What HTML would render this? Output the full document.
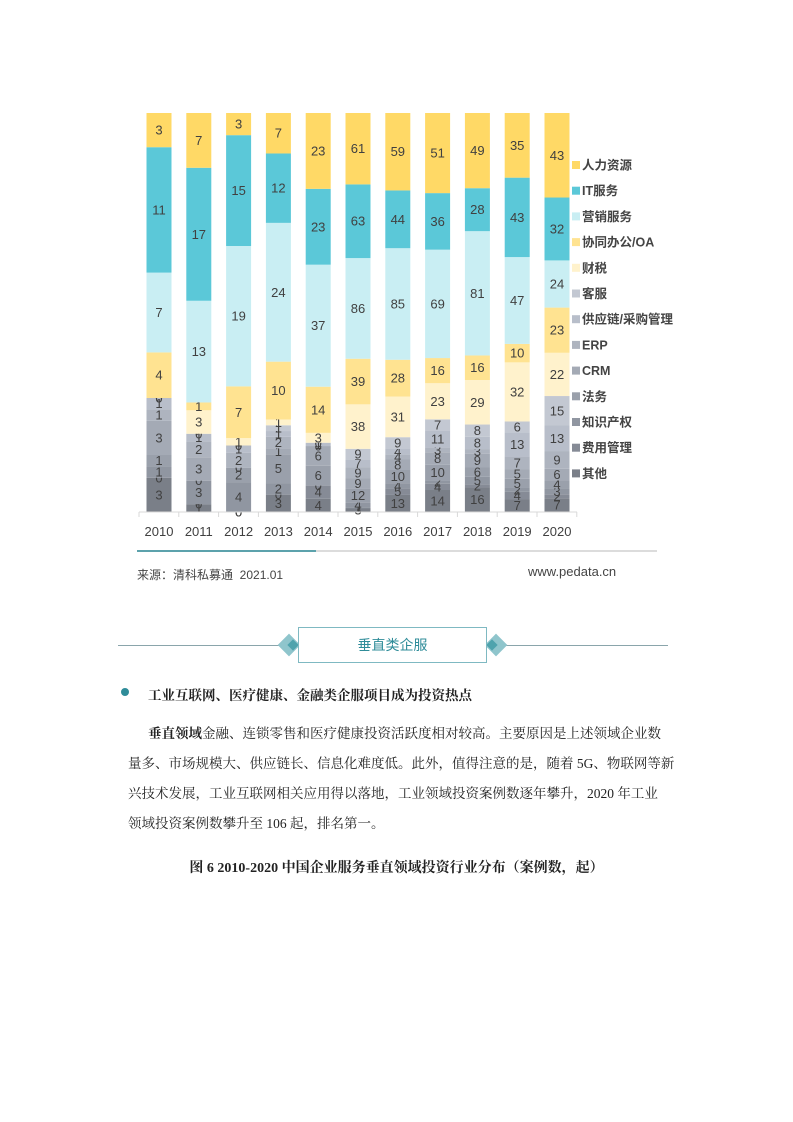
<!DOCTYPE html>
<html><head><meta charset="utf-8">
<style>
body{margin:0;background:#fff;}
#page{position:relative;width:793px;height:1122px;overflow:hidden;font-family:"Liberation Sans","Noto Sans CJK SC",sans-serif;color:#333;}
.abs{position:absolute;}
p.t{position:absolute;margin:0;font-family:"Liberation Serif","Noto Serif CJK SC",serif;font-size:13.5px;color:#222;white-space:nowrap;}
</style></head>
<body>
<div id="page">
<svg id="chart" class="abs" style="left:0;top:0" width="793" height="600"></svg>
<div class="abs" style="left:137px;top:566px;font-size:12px;color:#444;">来源：清科私募通&nbsp; 2021.01</div>
<div class="abs" style="left:528px;top:564px;font-size:13px;color:#444;">www.pedata.cn</div>

<div class="abs" style="left:118px;top:645px;width:550px;height:1px;background:#8aa5ab;"></div>
<div class="abs" style="left:281px;top:637px;width:16px;height:16px;background:#8fc5cc;transform:rotate(45deg);"></div>
<div class="abs" style="left:289px;top:641px;width:8px;height:8px;background:#4fa3ad;transform:rotate(45deg);"></div>
<div class="abs" style="left:488px;top:637px;width:16px;height:16px;background:#8fc5cc;transform:rotate(45deg);"></div>
<div class="abs" style="left:488px;top:641px;width:8px;height:8px;background:#4fa3ad;transform:rotate(45deg);"></div>
<div class="abs" style="left:298px;top:627px;width:187px;height:34px;border:1px solid #7fb9c2;background:#fff;color:#2f8c99;font-size:14px;text-align:center;line-height:34px;">垂直类企服</div>

<div class="abs" style="left:121px;top:688px;width:8px;height:8px;border-radius:50%;background:#2f8c99;"></div>
<p class="t" style="left:148px;top:684px;font-weight:bold;">工业互联网、医疗健康、金融类企服项目成为投资热点</p>
<p class="t" style="left:148px;top:722px;"><b>垂直领域</b>金融、连锁零售和医疗健康投资活跃度相对较高。主要原因是上述领域企业数</p>
<p class="t" style="left:128px;top:752px;">量多、市场规模大、供应链长、信息化难度低。此外，值得注意的是，随着 5G、物联网等新</p>
<p class="t" style="left:128px;top:782px;">兴技术发展，工业互联网相关应用得以落地，工业领域投资案例数逐年攀升，2020 年工业</p>
<p class="t" style="left:128px;top:812px;">领域投资案例数攀升至 106 起，排名第一。</p>
<p class="t" style="left:0;width:793px;text-align:center;top:857px;font-weight:bold;font-size:14px;">图 6 2010-2020 中国企业服务垂直领域投资行业分布（案例数，起）</p>
</div>
<script>
const years=["2010","2011","2012","2013","2014","2015","2016","2017","2018","2019","2020"];
const seriesNames=["其他","费用管理","知识产权","法务","CRM","ERP","供应链/采购管理","客服","财税","协同办公/OA","营销服务","IT服务","人力资源"];
const s_other=[3,1,0,3,4,3,13,14,16,7,7];
const s_expense=[0,0,0,0,4,1,5,4,2,4,2];
const s_ip=[1,3,4,2,0,4,4,2,5,2,3];
const s_legal=[1,0,2,5,6,12,10,10,6,5,4];
const s_crm=[3,3,0,1,6,9,8,8,9,5,6];
const s_erp=[1,2,2,2,0,9,4,3,3,7,9];
const s_supply=[1,1,1,1,1,7,4,11,8,13,13];
const s_service=[0,0,0,1,0,9,9,7,8,6,15];
const s_tax=[0,3,1,1,3,38,31,23,29,32,22];
const s_oa=[4,1,7,10,14,39,28,16,16,10,23];
const s_marketing=[7,13,19,24,37,86,85,69,81,47,24];
const s_it=[11,17,15,12,23,63,44,36,28,43,32];
const s_hr=[3,7,3,7,23,61,59,51,49,35,43];
const series=[s_other,s_expense,s_ip,s_legal,s_crm,s_erp,s_supply,s_service,s_tax,s_oa,s_marketing,s_it,s_hr];
const colors=["#7a7f88","#868b96","#9096a1","#9aa0ab","#a4aab5","#aeb4bf","#b8beca","#c3c8d2","#fff2cc","#ffe391","#c9eef3","#5bc8d8","#ffd966"];
const svg=document.getElementById('chart');
const NS='http://www.w3.org/2000/svg';
const top0=113,bot=512,x0=146.5,step=39.8,bw=25;
function xPos(i){return x0+i*step;}
function yScale(f){return bot-f*(bot-top0);}
function mk(t,a){const e=document.createElementNS(NS,t);for(const k in a)e.setAttribute(k,a[k]);svg.appendChild(e);return e;}
years.forEach((yr,i)=>{
  let tot=0;series.forEach(s=>tot+=s[i]);
  let cum=0;
  series.forEach((s,k)=>{
    const y1=yScale(cum/tot),y2=yScale((cum+s[i])/tot);
    const r=mk('rect',{x:xPos(i),y:y2,width:bw,height:Math.max(0,y1-y2),fill:colors[k]});
    
    
    const t=mk('text',{x:xPos(i)+bw/2,y:(y1+y2)/2+4.5,'text-anchor':'middle','font-size':13,fill:'#404040','font-family':'Liberation Sans, sans-serif'});
    t.textContent=s[i];
    
    
    cum+=s[i];
  });
  const yl=mk('text',{x:xPos(i)+bw/2,y:536,'text-anchor':'middle','font-size':13,fill:'#404040','font-family':'Liberation Sans, sans-serif'});
  yl.textContent=yr;
  
  
});
const ax=mk('line',{x1:139,y1:bot,x2:577,y2:bot,stroke:'#d9d9d9','stroke-width':1});


for(let i=0;i<=years.length;i++){
  const tk=mk('line',{x1:139+i*step,y1:bot,x2:139+i*step,y2:bot+5,stroke:'#d9d9d9'});
  
  
}
const l1=mk('line',{x1:137,y1:551,x2:657,y2:551,stroke:'#d0d0d0','stroke-width':1.5});


const l2=mk('line',{x1:137,y1:551,x2:316,y2:551,stroke:'#2f8c99','stroke-width':1.5});


for(let k=0;k<seriesNames.length;k++){
  const idx=seriesNames.length-1-k;
  const y=165+k*25.7;
  const sq=mk('rect',{x:572,y:y-4,width:8,height:8,fill:colors[idx]});
  
  
  const t=mk('text',{x:582,y:y+4.5,'font-size':12.5,'font-weight':'bold',fill:'#444','font-family':'Liberation Sans, Noto Sans CJK SC, sans-serif'});
  t.textContent=seriesNames[idx];
  
  
}
</script>
</body></html>
